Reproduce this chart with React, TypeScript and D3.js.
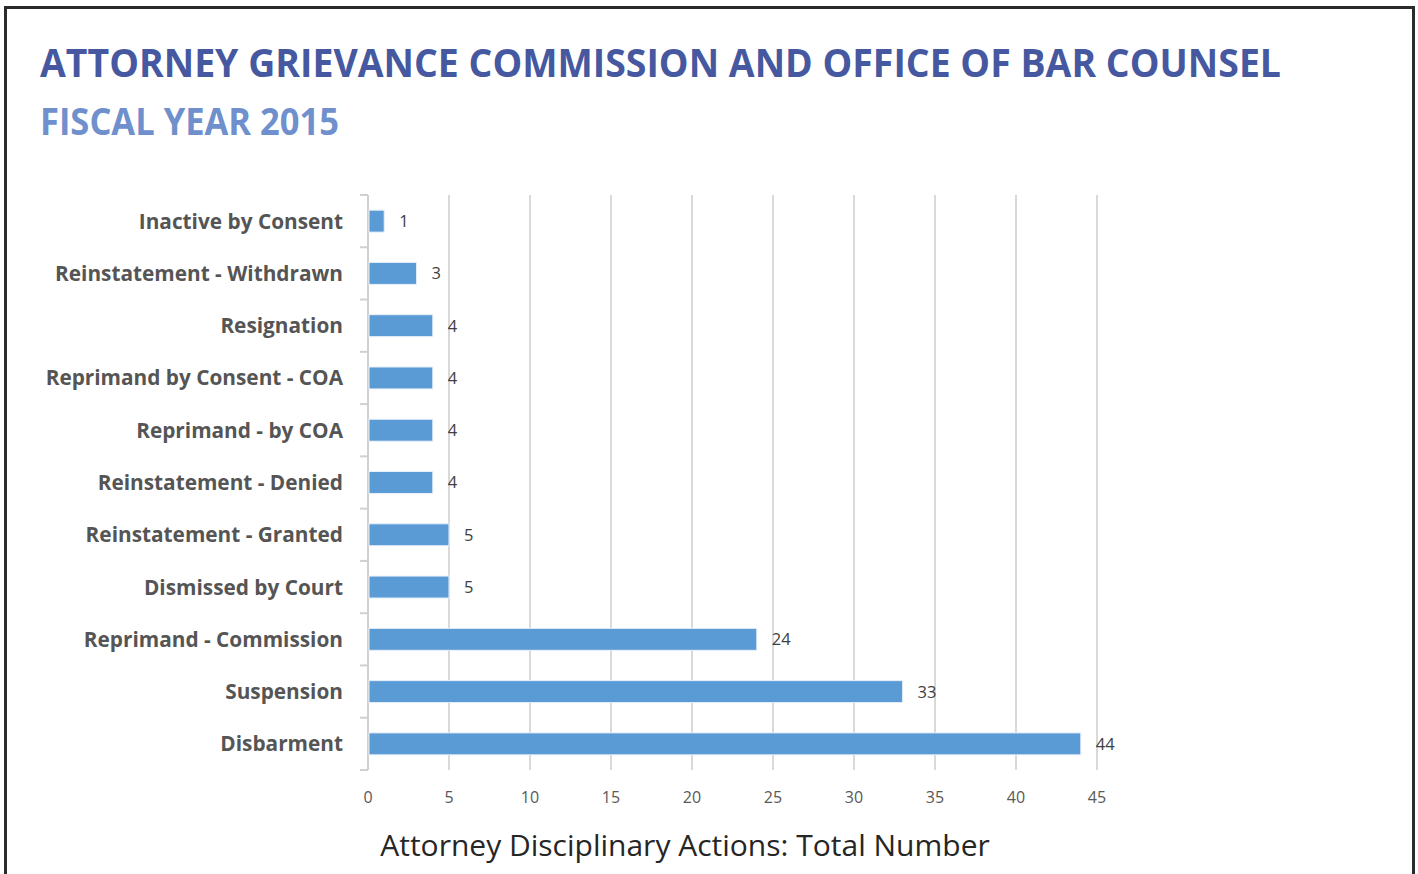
import React from "react";
import * as d3 from "d3";

const categories = [
  "Inactive by Consent",
  "Reinstatement - Withdrawn",
  "Resignation",
  "Reprimand by Consent - COA",
  "Reprimand - by COA",
  "Reinstatement - Denied",
  "Reinstatement - Granted",
  "Dismissed by Court",
  "Reprimand - Commission",
  "Suspension",
  "Disbarment",
];
const values = [1, 3, 4, 4, 4, 4, 5, 5, 24, 33, 44];
const xTicks = [0, 5, 10, 15, 20, 25, 30, 35, 40, 45];
const title = "ATTORNEY GRIEVANCE COMMISSION AND OFFICE OF BAR COUNSEL";
const subtitle = "FISCAL YEAR 2015";
const axisTitle = "Attorney Disciplinary Actions: Total Number";

const W = 1418;
const H = 874;
const FONT = "'Open Sans', 'Noto Sans', sans-serif";

export default function App() {
  const x = d3.scaleLinear().domain([0, 45]).range([368, 1097]);
  const y = d3.scaleBand<string>().domain(categories).range([195, 770]).paddingInner(0.58).paddingOuter(0.29);
  const yb = d3.scaleBand<string>().domain(categories).range([195, 770]);
  const boundaries = [...categories.map((c) => yb(c) as number), 770];

  return (
    <div style={{ position: "absolute", left: 0, top: 0 }}>
      <svg width={W} height={H} style={{ display: "block", background: "#fff" }}>
        <rect x={5.5} y={7.5} width={1408} height={880} fill="#fff" stroke="#2b2b2b" strokeWidth={3} />
        <text x={40} y={77} fontFamily={FONT} fontWeight={700} fontSize={40} fill="#46589f"
          textLength={1241} lengthAdjust="spacingAndGlyphs">{title}</text>
        <text x={40} y={135} fontFamily={FONT} fontWeight={700} fontSize={38} fill="#6f90cc"
          textLength={299} lengthAdjust="spacingAndGlyphs">{subtitle}</text>

        {/* gridlines */}
        {xTicks.slice(1).map((t) => (
          <line key={"g" + t} x1={x(t)} x2={x(t)} y1={195} y2={770} stroke="#d9d9d9" strokeWidth={2} />
        ))}
        {/* category axis */}
        <line x1={368} x2={368} y1={195} y2={770} stroke="#d0d0d0" strokeWidth={2} />
        {boundaries.map((b, i) => (
          <line key={"t" + i} x1={360} x2={368} y1={b} y2={b} stroke="#d0d0d0" strokeWidth={2} />
        ))}

        {/* bars */}
        {categories.map((c, i) => (
          <g key={c}>
            <rect x={x(0) + 1} y={y(c)} width={x(values[i]) - x(0) - 1} height={y.bandwidth()}
              fill="#5b9bd5" stroke="#e8f0fa" strokeWidth={1} />
            <text x={x(values[i]) + 15} y={(y(c) as number) + y.bandwidth() / 2} dy="0.36em"
              fontFamily={FONT} fontSize={16.5} fill="#404040">{values[i]}</text>
            <text x={343} y={(yb(c) as number) + yb.bandwidth() / 2} dy="0.36em" textAnchor="end"
              fontFamily={FONT} fontWeight={700} fontSize={20.8} fill="#555555">{c}</text>
          </g>
        ))}

        {/* x tick labels */}
        {xTicks.map((t) => (
          <text key={"l" + t} x={x(t)} y={803} textAnchor="middle" fontFamily={FONT} fontSize={16} fill="#595959">{t}</text>
        ))}
        <text x={685} y={856} textAnchor="middle" fontFamily={FONT} fontSize={30} fill="#262626">{axisTitle}</text>
      </svg>
    </div>
  );
}
